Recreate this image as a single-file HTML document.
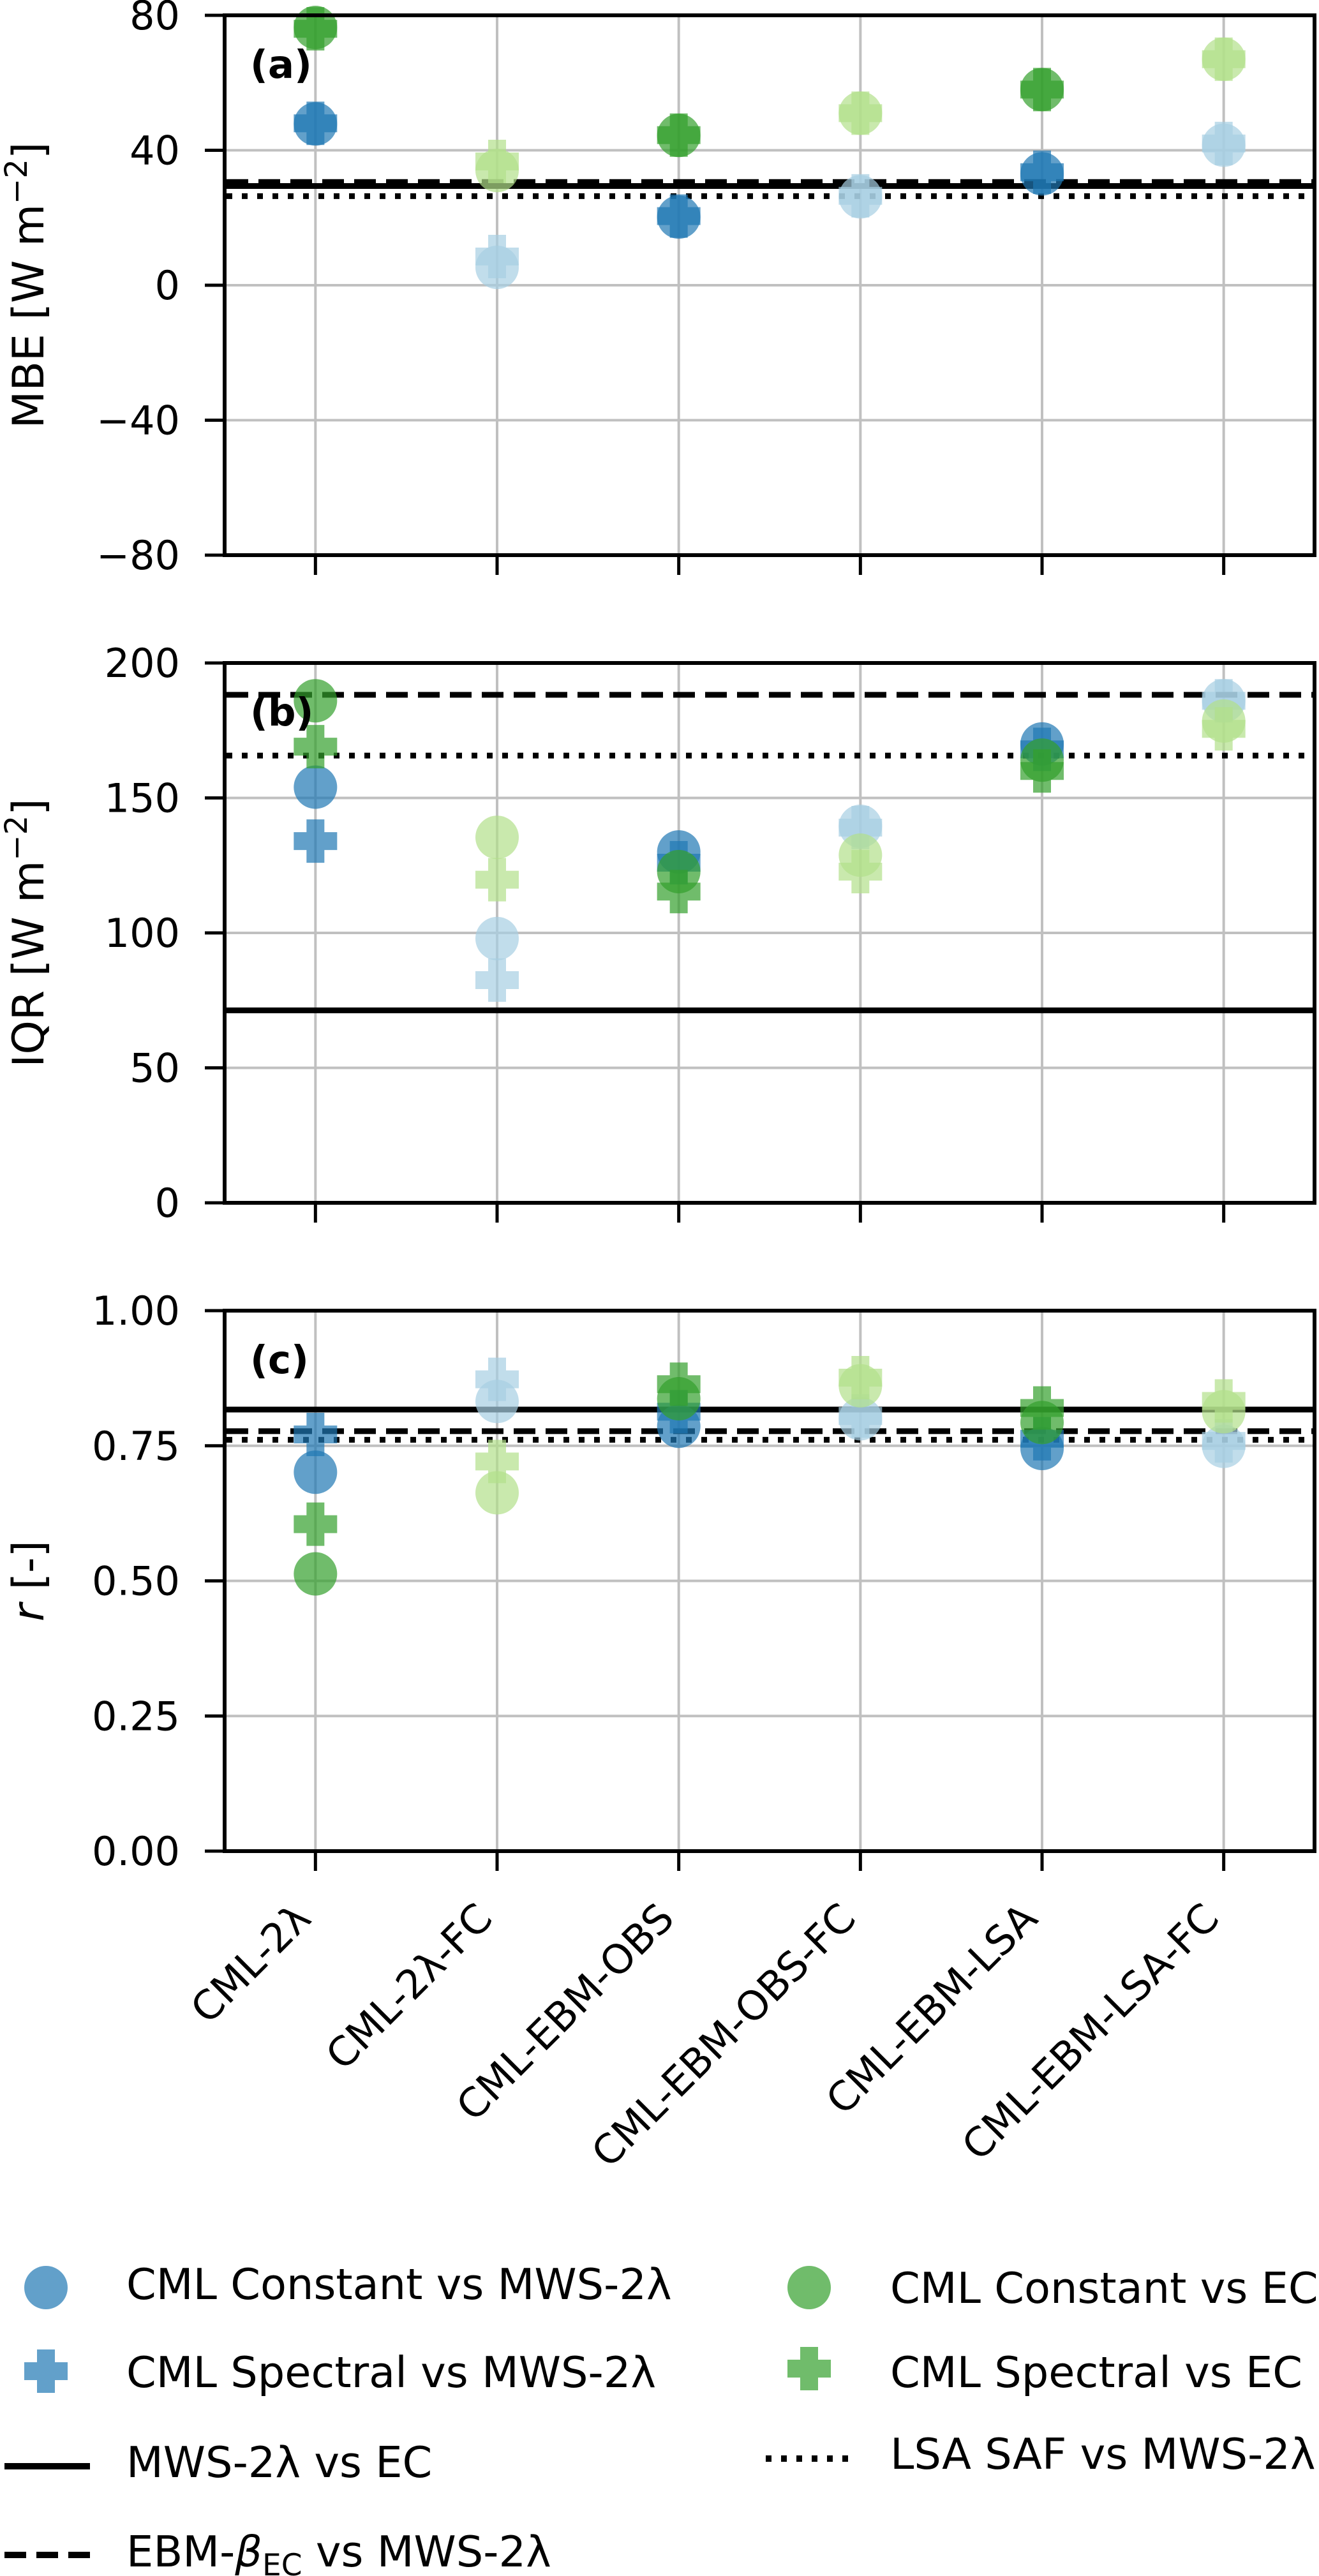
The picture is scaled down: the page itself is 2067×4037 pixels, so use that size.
<!DOCTYPE html>
<html>
<head>
<meta charset="utf-8">
<style>
html,body{margin:0;padding:0;background:#fff;}
svg{display:block;}
text{font-family:"DejaVu Sans","Liberation Sans",sans-serif;fill:#000;}
</style>
</head>
<body>
<svg id="chart" xmlns="http://www.w3.org/2000/svg" width="2067" height="4037" viewBox="0 0 2067 4037">
  <g id="panels"></g>
  <g id="xlabels"></g>
  <g id="legend">
    <circle cx="72" cy="3585" r="34" fill="#1f78b4" fill-opacity="0.7"/>
    <text x="198" y="3603" font-size="67">CML Constant vs MWS-2λ</text>
    <path d="M58,3682h28v20h20v28h-20v20h-28v-20h-20v-28h20z" fill="#1f78b4" fill-opacity="0.7"/>
    <text x="198" y="3741" font-size="67">CML Spectral vs MWS-2λ</text>
    <line x1="7" y1="3865" x2="141" y2="3865" stroke="#000" stroke-width="10"/>
    <text x="198" y="3882" font-size="67">MWS-2λ vs EC</text>
    <line x1="7" y1="4004" x2="141" y2="4004" stroke="#000" stroke-width="10" stroke-dasharray="34,16"/>
    <text x="198" y="4022" font-size="67">EBM-<tspan font-style="italic">β</tspan><tspan font-size="47" dy="14">EC</tspan><tspan dy="-14"> vs MWS-2λ</tspan></text>
    <circle cx="1268" cy="3585" r="34" fill="#33a02c" fill-opacity="0.7"/>
    <text x="1395" y="3609" font-size="67">CML Constant vs EC</text>
    <path d="M1254,3678h28v20h20v28h-20v20h-28v-20h-20v-28h20z" fill="#33a02c" fill-opacity="0.7"/>
    <text x="1395" y="3741" font-size="67">CML Spectral vs EC</text>
    <line x1="1200" y1="3853" x2="1338" y2="3853" stroke="#000" stroke-width="10" stroke-dasharray="9,15"/>
    <text x="1395" y="3869" font-size="67">LSA SAF vs MWS-2λ</text>
  </g>
</svg>
<script>
const categories = ["CML-2λ","CML-2λ-FC","CML-EBM-OBS","CML-EBM-OBS-FC","CML-EBM-LSA","CML-EBM-LSA-FC"];

const mbeConstMws = [47.8, 5.3, 20.2, 26.2, 33, 41.5];
const mbeSpecMws  = [48, 8.5, 20.5, 26.5, 33.5, 42];
const mbeConstEc  = [76.4, 34, 44.4, 51, 58, 67];
const mbeSpecEc   = [76, 36.7, 44.5, 51, 58, 67];
const mbeRefLines = [29.4, 30.6, 26.4]; // solid, dashed, dotted
const mbeTicks = [-80, -40, 0, 40, 80];

const iqrConstMws = [154, 97.9, 130, 139.5, 170, 186];
const iqrSpecMws  = [134, 82.5, 126, 139, 168, 186];
const iqrConstEc  = [186, 135.4, 122.7, 128.8, 164, 178.5];
const iqrSpecEc   = [169, 119.7, 115.3, 122.7, 160, 175.6];
const iqrRefLines = [71.3, 188.2, 165.7];
const iqrTicks = [0, 50, 100, 150, 200];

const rConstMws = [0.701, 0.832, 0.786, 0.80, 0.745, 0.749];
const rSpecMws  = [0.771, 0.873, 0.813, 0.805, 0.763, 0.759];
const rConstEc  = [0.513, 0.663, 0.837, 0.861, 0.793, 0.813];
const rSpecEc   = [0.605, 0.721, 0.864, 0.876, 0.82, 0.833];
const rRefLines = [0.817, 0.777, 0.761];
const rTicks = [0, 0.25, 0.5, 0.75, 1.0];

const NS = "http://www.w3.org/2000/svg";
const X0 = 352, X1 = 2060;
function xScale(i){ return X0 + (i + 0.5) * (X1 - X0) / categories.length; }
function mk(tag, attrs, parent){
  const e = document.createElementNS(NS, tag);
  for (const k in attrs) e.setAttribute(k, attrs[k]);
  parent.appendChild(e);
  return e;
}
const dark = {mws:"#1f78b4", ec:"#33a02c"};
const light = {mws:"#a6cee3", ec:"#b2df8a"};
function colorFor(group, i){ return (i % 2 === 1) ? light[group] : dark[group]; }
function plusPath(cx, cy){
  const h = 34, a = 14;
  return `M${cx-a},${cy-h}h${2*a}v${h-a}h${h-a}v${2*a}h${-(h-a)}v${h-a}h${-2*a}v${-(h-a)}h${-(h-a)}v${-2*a}h${h-a}z`;
}

const panelsG = document.getElementById("panels");
const panels = [
  {id:"mbe", top:24, bottom:870, min:-80, max:80, ticks:mbeTicks, fmt:v=>(v<0?"\u2212"+Math.abs(v):""+v),
   series:[mbeConstMws,mbeSpecMws,mbeConstEc,mbeSpecEc], lines:mbeRefLines, letter:"(a)", title:"MBE"},
  {id:"iqr", top:1039, bottom:1885, min:0, max:200, ticks:iqrTicks, fmt:v=>""+v,
   series:[iqrConstMws,iqrSpecMws,iqrConstEc,iqrSpecEc], lines:iqrRefLines, letter:"(b)", title:"IQR"},
  {id:"r", top:2054, bottom:2901, min:0, max:1, ticks:rTicks, fmt:v=>v.toFixed(2),
   series:[rConstMws,rSpecMws,rConstEc,rSpecEc], lines:rRefLines, letter:"(c)", title:"r"}
];

panels.forEach(p => {
  const yScale = v => p.bottom - (v - p.min) / (p.max - p.min) * (p.bottom - p.top);
  const g = mk("g", {}, panelsG);
  
  
  // grid
  p.ticks.forEach(t => {
    const ln = mk("line", {x1:X0, x2:X1, y1:yScale(t), y2:yScale(t), stroke:"#c0c0c0", "stroke-width":4}, g);
    
    
  });
  categories.forEach((c, i) => {
    const ln = mk("line", {x1:xScale(i), x2:xScale(i), y1:p.top, y2:p.bottom, stroke:"#c0c0c0", "stroke-width":4}, g);
    
    
  });
  // reference lines
  const styles = [null, "34,16", "9,15"];
  const names = ["mws-vs-ec-line", "ebm-vs-mws-line", "lsa-vs-mws-line"];
  p.lines.forEach((v, k) => {
    const attrs = {x1:X0+3, x2:X1-3, y1:yScale(v), y2:yScale(v), stroke:"#000", "stroke-width":9};
    if (styles[k]) attrs["stroke-dasharray"] = styles[k];
    const ln = mk("line", attrs, g);
    
    
  });
  // markers
  const groups = ["mws","mws","ec","ec"];
  const sNames = ["constant-vs-mws","spectral-vs-mws","constant-vs-ec","spectral-vs-ec"];
  p.series.forEach((arr, s) => {
    arr.forEach((v, i) => {
      const col = colorFor(groups[s], i);
      let m;
      if (s % 2 === 0) {
        m = mk("circle", {cx:xScale(i), cy:yScale(v), r:34, fill:col, "fill-opacity":0.7}, g);
      } else {
        m = mk("path", {d:plusPath(xScale(i), yScale(v)), fill:col, "fill-opacity":0.7}, g);
      }
      
      
    });
  });
  // frame
  const fr = mk("rect", {x:X0, y:p.top, width:X1-X0, height:p.bottom-p.top, fill:"none", stroke:"#000", "stroke-width":6}, g);
  
  
  // y ticks
  p.ticks.forEach(t => {
    const tk = mk("line", {x1:X0-31, x2:X0, y1:yScale(t), y2:yScale(t), stroke:"#000", "stroke-width":5}, g);
    
    
    const tl = mk("text", {x:282, y:yScale(t)+22, "font-size":62, "text-anchor":"end"}, g);
    tl.textContent = p.fmt(t);
    
    
  });
  // x ticks
  categories.forEach((c, i) => {
    const tk = mk("line", {x1:xScale(i), x2:xScale(i), y1:p.bottom, y2:p.bottom+31, stroke:"#000", "stroke-width":5}, g);
    
    
  });
  // panel letter
  const lt = mk("text", {x:392, y:p.top+98, "font-size":61, "font-weight":"bold"}, g);
  lt.textContent = p.letter;
  
  
  // y title
  const cy = (p.top + p.bottom) / 2;
  const yt = mk("text", {x:0, y:0, "font-size":68, "text-anchor":"middle", transform:`translate(68,${cy}) rotate(-90)`}, g);
  
  
  if (p.id === "r") {
    yt.innerHTML = '<tspan font-style="italic">r</tspan> [-]';
  } else {
    yt.innerHTML = p.title + ' [W m<tspan font-size="48" dy="-26">\u22122</tspan><tspan dy="26">]</tspan>';
  }
});

// x tick labels (bottom panel)
const xl = document.getElementById("xlabels");
categories.forEach((c, i) => {
  const x0 = xScale(i) - 4, y0 = 3010;
  const t = mk("text", {x:0, y:0, "font-size":63, "text-anchor":"end", transform:`translate(${x0},${y0}) rotate(-45)`}, xl);
  t.textContent = c;
  
  
});
</script>
</body>
</html>
